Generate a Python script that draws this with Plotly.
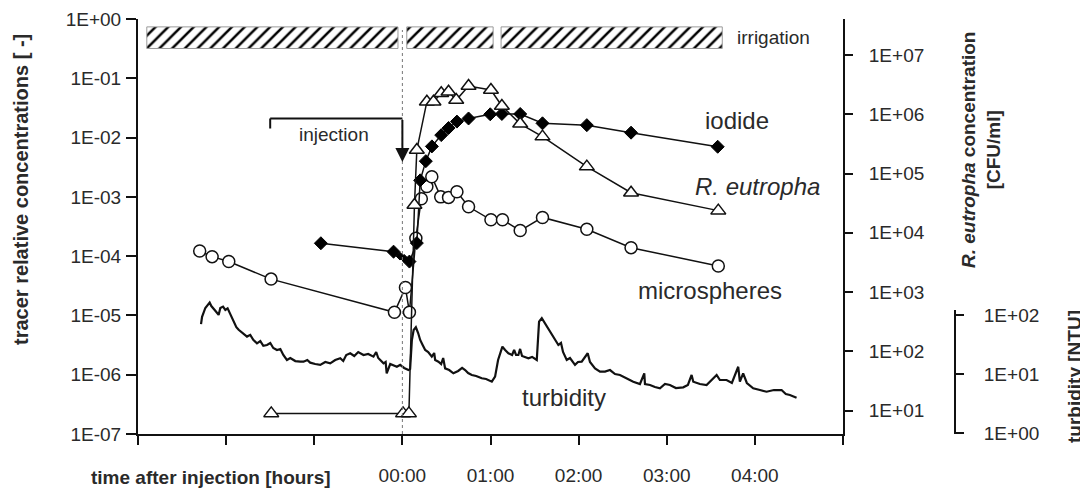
import plotly.graph_objects as go

# ---------------- data ----------------
hour_ticks = [-3, -2, -1, 0, 1, 2, 3, 4, 5]
hour_labels = ["", "", "", "00:00", "01:00", "02:00", "03:00", "04:00", ""]

left_tickvals = [1, 1e-1, 1e-2, 1e-3, 1e-4, 1e-5, 1e-6, 1e-7]
left_ticktext = ["1E+00", "1E-01", "1E-02", "1E-03", "1E-04", "1E-05", "1E-06", "1E-07"]
cfu_tickvals = [1e1, 1e2, 1e3, 1e4, 1e5, 1e6, 1e7]
cfu_ticktext = ["1E+01", "1E+02", "1E+03", "1E+04", "1E+05", "1E+06", "1E+07"]
ntu_tickvals = [1, 10, 100]
ntu_ticktext = ["1E+00", "1E+01", "1E+02"]

irrigation_start = [-2.90, 0.05, 1.12]
irrigation_end = [-0.05, 1.03, 3.63]

iodide_hours = [-0.925, -0.10, -0.027, 0.02, 0.08, 0.164, 0.202, 0.266, 0.335, 0.441,
                0.524, 0.619, 0.751, 0.997, 1.129, 1.337, 1.59, 2.093, 2.595, 3.578]
iodide_conc = [1.65e-4, 1.19e-4, 1.0e-4, 9.2e-5, 8.1e-5, 1.66e-4, 1.9e-3, 4.0e-3, 7.1e-3, 1.1e-2,
               1.45e-2, 1.86e-2, 2.1e-2, 2.47e-2, 2.5e-2, 2.5e-2, 1.74e-2, 1.62e-2, 1.21e-2, 7.0e-3]

reutropha_hours = [-1.488, 0.008, 0.074, 0.137, 0.164, 0.278, 0.353, 0.441, 0.524, 0.611,
                   0.751, 1.005, 1.129, 1.337, 1.59, 2.093, 2.595, 3.585]
reutropha_cfu = [9, 9, 9, 2.95e4, 2.5e5, 1.63e6, 1.63e6, 2.26e6, 2.4e6, 1.74e6,
                 3.0e6, 2.57e6, 1.38e6, 6.9e5, 4.2e5, 1.31e5, 4.75e4, 2.37e4]

micro_hours = [-2.30, -2.159, -1.97, -1.49, -0.09, 0.035, 0.08, 0.153, 0.215, 0.278, 0.334,
               0.435, 0.524, 0.619, 0.751, 1.005, 1.136, 1.337, 1.59, 2.093, 2.595, 3.585]
micro_conc = [1.22e-4, 9.8e-5, 8.1e-5, 4.1e-5, 1.13e-5, 2.95e-5, 1.13e-5, 2.0e-4, 9.3e-4, 1.49e-3, 2.19e-3,
              1.0e-3, 9.8e-4, 1.22e-3, 6.8e-4, 4.1e-4, 4.1e-4, 2.7e-4, 4.5e-4, 2.84e-4, 1.39e-4, 6.8e-5]

turbidity_hours = [
    -2.285, -2.273, -2.236, -2.187, -2.168, -2.142, -2.111, -2.085, -2.066, -2.035,
    -2.009, -1.983, -1.952, -1.915, -1.884, -1.858, -1.816, -1.763, -1.726, -1.692,
    -1.650, -1.612, -1.578, -1.536, -1.499, -1.465, -1.423, -1.385, -1.351, -1.310,
    -1.272, -1.215, -1.159, -1.121, -1.079, -1.046, -0.989, -0.932, -0.875, -0.819,
    -0.762, -0.705, -0.671, -0.637, -0.592, -0.546, -0.501, -0.441, -0.388, -0.328,
    -0.297, -0.274, -0.214, -0.190, -0.178, -0.138, -0.062, -0.025, 0.020, 0.069,
    0.088, 0.108, 0.128, 0.153, 0.179, 0.202, 0.230, 0.259, 0.293, 0.334,
    0.361, 0.372, 0.409, 0.440, 0.463, 0.485, 0.531, 0.579, 0.633, 0.678,
    0.712, 0.746, 0.788, 0.837, 0.901, 0.950, 1.015, 1.052, 1.086, 1.135,
    1.166, 1.203, 1.245, 1.268, 1.290, 1.316, 1.336, 1.358, 1.430, 1.472,
    1.525, 1.551, 1.582, 1.608, 1.656, 1.710, 1.770, 1.800, 1.823, 1.865,
    1.902, 1.959, 1.993, 2.035, 2.103, 2.129, 2.186, 2.243, 2.299, 2.356,
    2.413, 2.469, 2.537, 2.620, 2.696, 2.745, 2.753, 2.810, 2.866, 2.923,
    2.980, 3.036, 3.104, 3.187, 3.240, 3.282, 3.301, 3.376, 3.452, 3.501,
    3.566, 3.603, 3.679, 3.739, 3.811, 3.830, 3.867, 3.909, 3.981, 4.057,
    4.133, 4.216, 4.303, 4.351, 4.397, 4.473]
turbidity_ntu = [
    70, 93, 131, 161, 141, 129, 112, 100, 131, 138,
    121, 129, 104, 82, 62, 56, 49, 43, 46, 38,
    33, 36, 30, 31, 33.5, 27.6, 25.5, 26.5, 21, 17.3,
    18.7, 16.6, 16.3, 16.2, 17.3, 15.6, 14.8, 14.3, 16.0, 15.2,
    17.3, 18.5, 16.6, 21.0, 22.5, 20.2, 23.6, 21.0, 21.9, 19.7,
    23.6, 18.7, 15.2, 16.0, 10.3, 14.8, 13.3, 14.3, 12.7, 11.7,
    12.2, 37.7, 55.6, 61.8, 49.4, 37.7, 31.0, 25.5, 23.6, 19.7,
    22.7, 17.3, 16.2, 14.8, 18.7, 12.5, 11.7, 10.3, 11.3, 12.7,
    11.7, 10.4, 9.66, 9.29, 8.49, 8.26, 7.44, 9.04, 17.3, 29.0,
    25.5, 22.5, 21.0, 25.5, 21.0, 21.0, 26.6, 20.2, 18.5, 19.5,
    17.3, 76.8, 87.7, 75.9, 55.6, 42.4, 31.0, 33.5, 23.6, 17.3,
    18.7, 14.3, 16.0, 16.2, 22.5, 16.0, 12.5, 11.0, 11.0, 11.7,
    10.0, 9.66, 8.6, 7.44, 6.8, 10.3, 6.8, 6.55, 6.05, 5.75,
    6.8, 6.55, 5.82, 5.98, 6.55, 9.66, 7.44, 6.8, 6.55, 7.64,
    9.66, 7.94, 7.94, 7.08, 13.3, 7.44, 10.3, 7.08, 5.75, 5.38,
    5.04, 5.38, 5.39, 4.61, 4.44, 3.99]

# ---------------- styling helpers ----------------
FONT = "Liberation Sans, Arial, sans-serif"
INK = "#111111"
TXT = "#2a2a2a"
OFF = 8  # page body margin of the html page
PL, PT, PW, PH = 138, 19, 705, 415  # plot area in screen pixels
FIG_W, FIG_H = 1088 - OFF, 490 - OFF
ML, MT = PL - OFF, PT - OFF
MR, MB = FIG_W - ML - PW, FIG_H - MT - PH


def px_x(p):
    return (p - PL) / PW


def px_y(p):
    return (PT + PH - p) / PH


fig = go.Figure()

# irrigation bars (hatched)
fig.add_trace(go.Bar(
    y=[0.955] * len(irrigation_start),
    x=[e - s for s, e in zip(irrigation_start, irrigation_end)],
    base=irrigation_start, orientation="h", width=0.052, yaxis="y4",
    marker=dict(color="white", line=dict(color="#9a9a9a", width=1),
                pattern=dict(shape="/", fgcolor="black", bgcolor="white", size=9, solidity=0.28)),
    hoverinfo="skip", showlegend=False))

# turbidity
fig.add_trace(go.Scatter(x=turbidity_hours, y=turbidity_ntu, yaxis="y3", mode="lines",
                         line=dict(color=INK, width=2.2), hoverinfo="skip", showlegend=False))

# microspheres
fig.add_trace(go.Scatter(x=micro_hours, y=micro_conc, mode="lines+markers",
                         line=dict(color=INK, width=1.5),
                         marker=dict(symbol="circle", size=12, color="white", line=dict(color=INK, width=1.5)),
                         showlegend=False))

# iodide
iod_sizes = [10 if i not in (2, 3) else 6 for i in range(len(iodide_hours))]
fig.add_trace(go.Scatter(x=iodide_hours, y=iodide_conc, mode="lines+markers",
                         line=dict(color=INK, width=1.5),
                         marker=dict(symbol="diamond", size=iod_sizes, color="black", opacity=1,
                                     line=dict(color="black", width=1)),
                         showlegend=False))

# R. eutropha
fig.add_trace(go.Scatter(x=reutropha_hours, y=reutropha_cfu, yaxis="y2", mode="lines+markers",
                         line=dict(color=INK, width=1.5),
                         marker=dict(symbol="triangle-up", size=13, color="white", line=dict(color=INK, width=1.5)),
                         showlegend=False))

axis_common = dict(showgrid=False, zeroline=False, linecolor=INK, tickcolor=INK,
                   tickfont=dict(family=FONT, size=19, color=TXT))

fig.update_layout(
    width=FIG_W, height=FIG_H, template="none",
    margin=dict(l=ML, r=MR, t=MT, b=MB, pad=0, autoexpand=False),
    paper_bgcolor="white", plot_bgcolor="white", showlegend=False,
    font=dict(family=FONT, size=19, color=TXT),
    xaxis=dict(range=[-3, 5], tickmode="array", tickvals=hour_ticks, ticktext=hour_labels,
               showline=True, linewidth=2, ticks="outside", ticklen=9, tickwidth=1.5,
               ticklabelstandoff=14, **axis_common),
    yaxis=dict(type="log", range=[-7, 0], tickmode="array", tickvals=left_tickvals, ticktext=left_ticktext,
               showline=True, linewidth=2, ticks="outside", ticklen=10, tickwidth=1.5,
               ticklabelstandoff=1, **axis_common),
    yaxis2=dict(type="log", overlaying="y", side="right", range=[0.607, 7.607],
                tickmode="array", tickvals=cfu_tickvals, ticktext=cfu_ticktext,
                showline=True, linewidth=2, ticks="outside", ticklen=8, tickwidth=1.5,
                ticklabelstandoff=12, **axis_common),
    yaxis3=dict(type="log", overlaying="y", side="right", anchor="free", position=1, shift=112,
                range=[-0.012, 6.998], tickmode="array", tickvals=ntu_tickvals, ticktext=ntu_ticktext,
                showline=False, ticks="outside", ticklen=8, tickwidth=1.5,
                ticklabelstandoff=16, **axis_common),
    yaxis4=dict(overlaying="y", range=[0, 1], visible=False, fixedrange=True),
)

# turbidity axis line (partial)
fig.add_shape(type="line", xref="paper", yref="paper", x0=px_x(955), x1=px_x(955),
              y0=0, y1=px_y(310), line=dict(color=INK, width=2))
# injection dotted line
fig.add_shape(type="line", xref="x", yref="paper", x0=0, x1=0, y0=0, y1=px_y(30),
              line=dict(color="#777", width=1, dash="dot"))
# injection bracket
fig.add_shape(type="line", xref="x", yref="paper", x0=-1.5, x1=0, y0=px_y(118.5), y1=px_y(118.5),
              line=dict(color=INK, width=2))
fig.add_shape(type="line", xref="x", yref="paper", x0=-1.5, x1=-1.5, y0=px_y(118.5), y1=px_y(128.5),
              line=dict(color=INK, width=2))
fig.add_annotation(x=0, y=px_y(162), xref="x", yref="paper", text="", showarrow=True,
                   ax=0, ay=-43.5, arrowhead=2, arrowsize=1.4, arrowwidth=2, arrowcolor=INK, standoff=0)


def label(text, x, y, size=24, xref="x", xanchor="center", **kw):
    fig.add_annotation(x=x, y=y, xref=xref, yref="paper", text=text, showarrow=False,
                       xanchor=xanchor, yanchor="middle",
                       font=dict(family=FONT, size=size, color=TXT), **kw)


label("injection", -0.78, px_y(134), size=19)
label("irrigation", 4.21, px_y(37), size=19)
label("iodide", 3.80, px_y(120.4))
label("<i>R. eutropha</i>", 4.03, px_y(187))
label("microspheres", 3.49, px_y(290.4))
label("turbidity", 1.83, px_y(397.5))

# axis titles
label("<b>time after injection [hours]</b>", px_x(333), px_y(477), size=19, xref="paper", xanchor="right")
label("<b>tracer relative concentrations [ -]</b>", px_x(21), px_y(190), size=20, xref="paper", textangle=-90)
label("<b><i>R. eutropha</i> concentration<br>[CFU/ml]</b>", px_x(981), px_y(150), size=19,
      xref="paper", textangle=-90)
label("<b>turbidity [NTU]</b>", px_x(1074), px_y(377), size=19, xref="paper", textangle=-90)

fig.write_html("out.html")
